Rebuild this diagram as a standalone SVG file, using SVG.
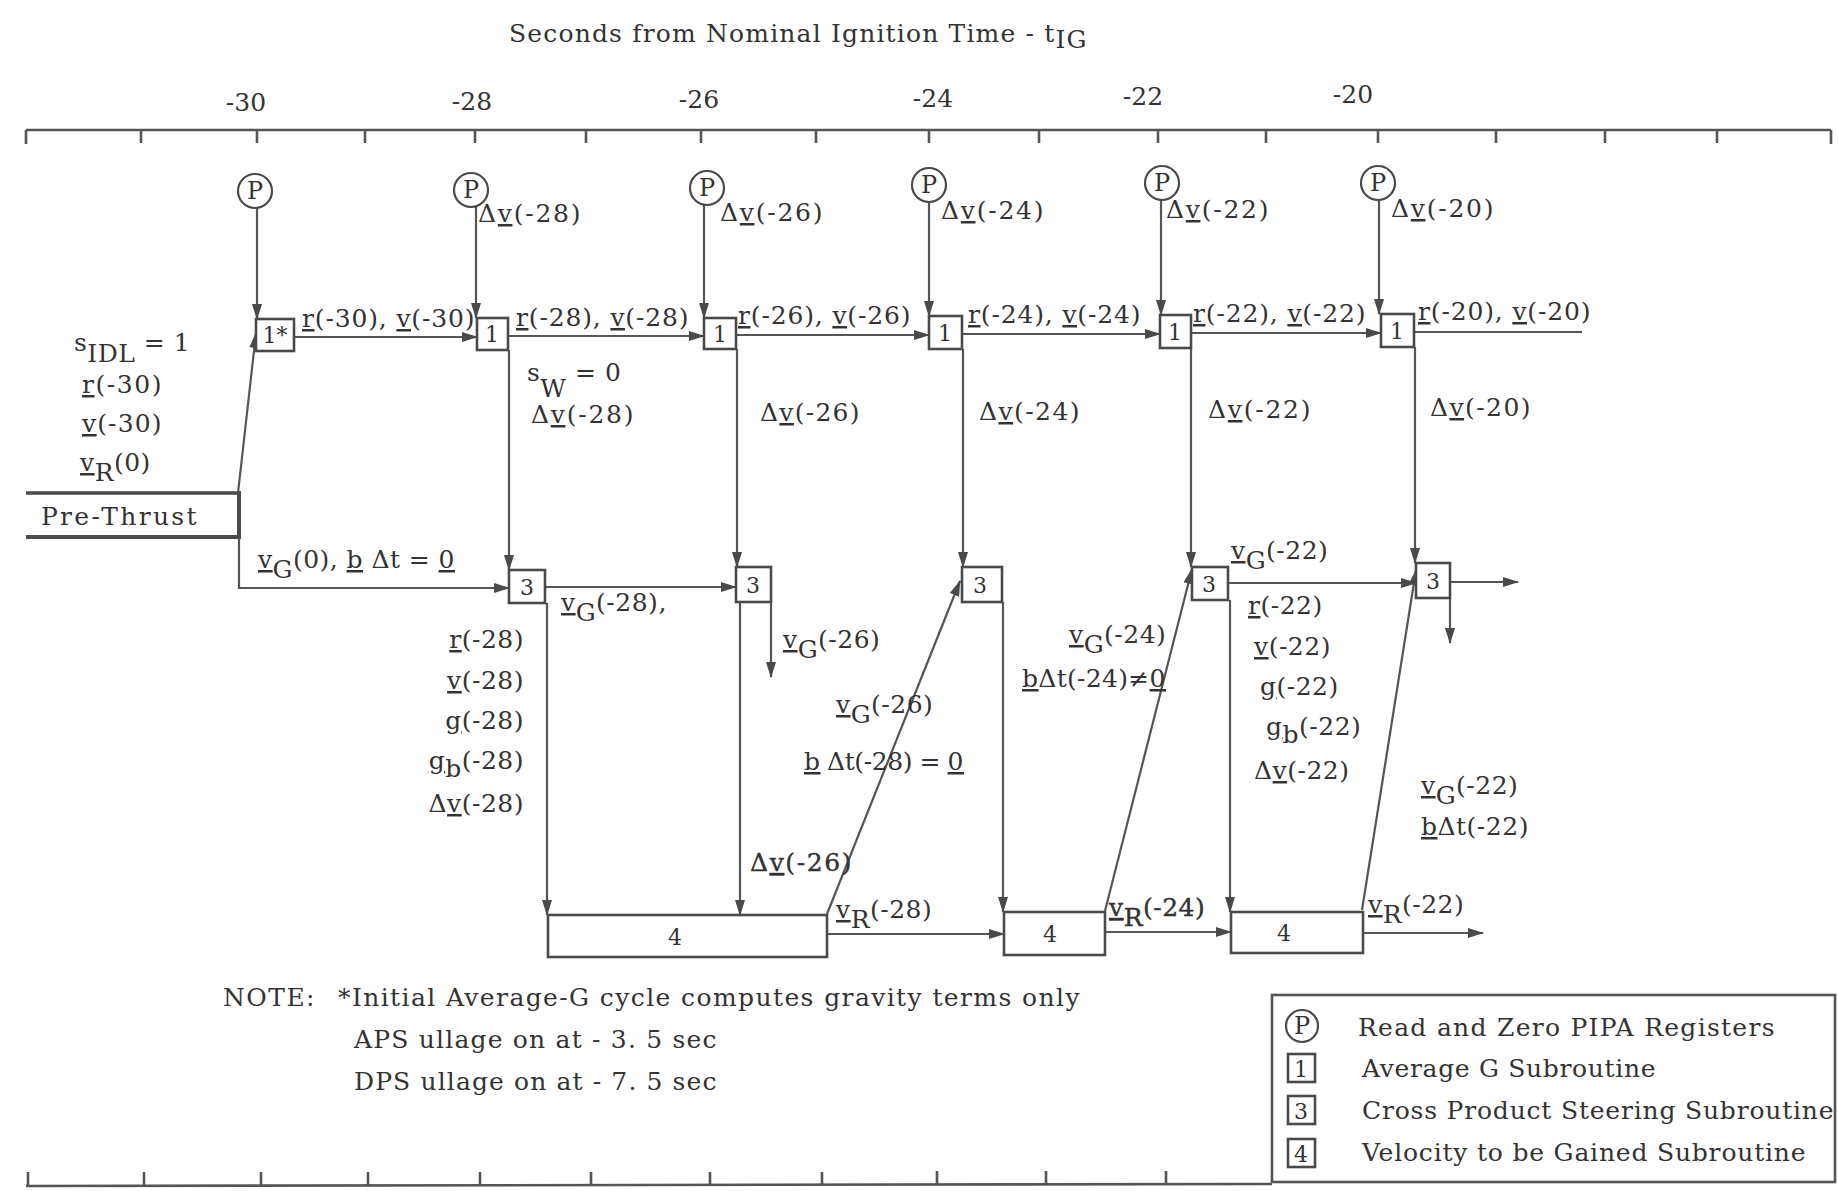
<svg xmlns="http://www.w3.org/2000/svg" width="1838" height="1191" viewBox="0 0 1838 1191">
<defs>
<style>
text{font-family:"DejaVu Serif","Liberation Serif",serif;font-size:25px;fill:#333;letter-spacing:0.5px}
.u{text-decoration:underline}
.ln{stroke:#555;stroke-width:2.2;fill:none}
.ar{stroke:#555;stroke-width:2.2;fill:none;marker-end:url(#ah)}
.bx{fill:#fff;stroke:#4a4a4a;stroke-width:2.6}
.ax{stroke:#555;stroke-width:2.6;fill:none}
.pc{fill:#fff;stroke:#4a4a4a;stroke-width:2.2}
.bl{font-size:22px;text-anchor:middle;letter-spacing:0}
.pl{font-size:24px;text-anchor:middle;letter-spacing:0}
.c{text-anchor:middle;letter-spacing:0}
.e{text-anchor:end}
.bd{stroke:#333;stroke-width:0.4}
</style>
<marker id="ah" markerWidth="16" markerHeight="12" refX="15" refY="6" orient="auto" markerUnits="userSpaceOnUse">
<path d="M0,1 L16,6 L0,11 Z" fill="#4a4a4a"/>
</marker>
</defs>
<rect width="1838" height="1191" fill="#fff"/>

<g id="title">
<text x="509" y="42" textLength="578" lengthAdjust="spacing">Seconds from Nominal Ignition Time - t<tspan dy="6">IG</tspan></text>
</g>

<g id="axis-top">
<path class="ax" d="M26,130 L1831,130 M26,130 V144 M141,130 V143 M257,130 V143 M365,130 V143 M475,130 V143 M586,130 V143 M701,130 V143 M816,130 V143 M929,130 V143 M1039,130 V143 M1158,130 V143 M1266,130 V143 M1378,130 V143 M1496,130 V143 M1605,130 V143 M1717,130 V143 M1831,130 V144"/>
<text class="c" x="246" y="111">-30</text>
<text class="c" x="472" y="110">-28</text>
<text class="c" x="699" y="108">-26</text>
<text class="c" x="933" y="107">-24</text>
<text class="c" x="1143" y="105">-22</text>
<text class="c" x="1353" y="103">-20</text>
</g>

<g id="axis-bottom">
<path class="ax" d="M26,1186 L1272,1184 M28,1186 V1172 M144,1186 V1172 M261,1186 V1172 M368,1186 V1172 M480,1186 V1172 M591,1186 V1172 M710,1186 V1172 M822,1186 V1172 M937,1185 V1171 M1046,1185 V1171 M1166,1185 V1171"/>
</g>

<g id="connectors">
<line class="ar" x1="257" y1="208" x2="257" y2="319"/>
<line class="ar" x1="476" y1="206" x2="476" y2="318"/>
<line class="ar" x1="704" y1="204" x2="704" y2="318"/>
<line class="ar" x1="929" y1="202" x2="929" y2="316"/>
<line class="ar" x1="1161" y1="200" x2="1161" y2="315"/>
<line class="ar" x1="1379" y1="200" x2="1379" y2="314"/>
<line class="ar" x1="294" y1="337" x2="477" y2="337"/>
<line class="ar" x1="508" y1="336" x2="704" y2="336"/>
<line class="ar" x1="736" y1="335" x2="929" y2="335"/>
<line class="ar" x1="962" y1="334" x2="1160" y2="334"/>
<line class="ar" x1="1191" y1="333" x2="1381" y2="333"/>
<line class="ln" x1="1414" y1="332" x2="1582" y2="332"/>
<line class="ar" x1="509" y1="350" x2="509" y2="570"/>
<line class="ar" x1="737" y1="349" x2="737" y2="567"/>
<line class="ar" x1="963" y1="349" x2="963" y2="567"/>
<line class="ar" x1="1191" y1="348" x2="1191" y2="567"/>
<line class="ar" x1="1415" y1="347" x2="1415" y2="563"/>
<line class="ar" x1="238" y1="493" x2="256" y2="333"/>
<polyline class="ar" points="239,537 239,588 509,588"/>
<line class="ar" x1="545" y1="587" x2="736" y2="587"/>
<line class="ar" x1="771" y1="602" x2="771" y2="677"/>
<line class="ar" x1="1228" y1="583" x2="1416" y2="583"/>
<line class="ar" x1="1450" y1="582" x2="1518" y2="582"/>
<line class="ar" x1="1450" y1="598" x2="1450" y2="643"/>
<line class="ar" x1="547" y1="603" x2="547" y2="915"/>
<line class="ar" x1="740" y1="602" x2="740" y2="915"/>
<line class="ar" x1="1003" y1="602" x2="1003" y2="912"/>
<line class="ar" x1="1230" y1="600" x2="1230" y2="912"/>
<line class="ar" x1="827" y1="914" x2="960" y2="581"/>
<line class="ar" x1="1105" y1="911" x2="1192" y2="569"/>
<line class="ar" x1="1362" y1="910" x2="1416" y2="570"/>
<line class="ar" x1="827" y1="934" x2="1004" y2="934"/>
<line class="ar" x1="1105" y1="932" x2="1231" y2="932"/>
<line class="ar" x1="1363" y1="933" x2="1483" y2="933"/>
</g>

<g id="pre-thrust">
<path d="M26,493 H239" stroke="#4a4a4a" stroke-width="3.5" fill="none"/>
<path d="M26,537 H239" stroke="#4a4a4a" stroke-width="4" fill="none"/>
<path d="M239,491 V539" stroke="#4a4a4a" stroke-width="4" fill="none"/>
<text x="41" y="525" textLength="156" lengthAdjust="spacing">Pre-Thrust</text>
</g>

<g id="p-30"><circle class="pc" cx="255" cy="191" r="17"/><text class="pl" x="255" y="199">P</text></g>
<g id="p-28"><circle class="pc" cx="471" cy="190" r="17"/><text class="pl" x="471" y="198">P</text></g>
<g id="p-26"><circle class="pc" cx="707" cy="188" r="17"/><text class="pl" x="707" y="196">P</text></g>
<g id="p-24"><circle class="pc" cx="929" cy="185" r="17"/><text class="pl" x="929" y="193">P</text></g>
<g id="p-22"><circle class="pc" cx="1162" cy="183" r="17"/><text class="pl" x="1162" y="191">P</text></g>
<g id="p-20"><circle class="pc" cx="1378" cy="183" r="17"/><text class="pl" x="1378" y="191">P</text></g>

<g id="avg-30"><rect class="bx" x="256" y="319" width="38" height="32"/><text class="bl" x="275" y="343">1*</text></g>
<g id="avg-28"><rect class="bx" x="477" y="318" width="31" height="32"/><text class="bl" x="492" y="342">1</text></g>
<g id="avg-26"><rect class="bx" x="704" y="318" width="32" height="31"/><text class="bl" x="720" y="342">1</text></g>
<g id="avg-24"><rect class="bx" x="929" y="316" width="33" height="33"/><text class="bl" x="945" y="341">1</text></g>
<g id="avg-22"><rect class="bx" x="1160" y="315" width="31" height="33"/><text class="bl" x="1175" y="340">1</text></g>
<g id="avg-20"><rect class="bx" x="1381" y="314" width="33" height="33"/><text class="bl" x="1397" y="339">1</text></g>

<g id="cps-28"><rect class="bx" x="509" y="570" width="36" height="33"/><text class="bl" x="527" y="595">3</text></g>
<g id="cps-26"><rect class="bx" x="736" y="567" width="35" height="35"/><text class="bl" x="753" y="593">3</text></g>
<g id="cps-24"><rect class="bx" x="962" y="567" width="40" height="35"/><text class="bl" x="980" y="593">3</text></g>
<g id="cps-22"><rect class="bx" x="1192" y="567" width="36" height="33"/><text class="bl" x="1209" y="592">3</text></g>
<g id="cps-20"><rect class="bx" x="1416" y="563" width="34" height="35"/><text class="bl" x="1433" y="589">3</text></g>

<g id="vtg-28"><rect class="bx" x="548" y="915" width="279" height="42"/><text class="bl" x="675" y="945">4</text></g>
<g id="vtg-24"><rect class="bx" x="1004" y="912" width="101" height="43"/><text class="bl" x="1050" y="942">4</text></g>
<g id="vtg-22"><rect class="bx" x="1231" y="912" width="132" height="41"/><text class="bl" x="1284" y="941">4</text></g>

<g id="labels">
<text x="478" y="222" textLength="103" lengthAdjust="spacing">Δ<tspan class="u">v</tspan>(-28)</text>
<text x="720" y="221" textLength="103" lengthAdjust="spacing">Δ<tspan class="u">v</tspan>(-26)</text>
<text x="941" y="219" textLength="103" lengthAdjust="spacing">Δ<tspan class="u">v</tspan>(-24)</text>
<text x="1166" y="218" textLength="103" lengthAdjust="spacing">Δ<tspan class="u">v</tspan>(-22)</text>
<text x="1391" y="217" textLength="103" lengthAdjust="spacing">Δ<tspan class="u">v</tspan>(-20)</text>
<text x="302" y="327" textLength="173" lengthAdjust="spacing"><tspan class="u">r</tspan>(-30), <tspan class="u">v</tspan>(-30)</text>
<text x="516" y="326" textLength="173" lengthAdjust="spacing"><tspan class="u">r</tspan>(-28), <tspan class="u">v</tspan>(-28)</text>
<text x="738" y="324" textLength="173" lengthAdjust="spacing"><tspan class="u">r</tspan>(-26), <tspan class="u">v</tspan>(-26)</text>
<text x="968" y="323" textLength="173" lengthAdjust="spacing"><tspan class="u">r</tspan>(-24), <tspan class="u">v</tspan>(-24)</text>
<text x="1193" y="322" textLength="173" lengthAdjust="spacing"><tspan class="u">r</tspan>(-22), <tspan class="u">v</tspan>(-22)</text>
<text x="1418" y="320" textLength="173" lengthAdjust="spacing"><tspan class="u">r</tspan>(-20), <tspan class="u">v</tspan>(-20)</text>
<text x="74" y="351">s<tspan dy="11">IDL</tspan><tspan dy="-11"> = 1</tspan></text>
<text x="82" y="393" textLength="80" lengthAdjust="spacing"><tspan class="u">r</tspan>(-30)</text>
<text x="82" y="432" textLength="80" lengthAdjust="spacing"><tspan class="u">v</tspan>(-30)</text>
<text x="80" y="471"><tspan class="u">v</tspan><tspan dy="10">R</tspan><tspan dy="-10">(0)</tspan></text>
<text x="258" y="568" textLength="197" lengthAdjust="spacing"><tspan class="u">v</tspan><tspan dy="10">G</tspan><tspan dy="-10">(0), </tspan><tspan class="u">b</tspan> Δt = <tspan class="u">0</tspan></text>
<text x="527" y="381">s<tspan dy="16">W</tspan><tspan dy="-16"> = 0</tspan></text>
<text x="531" y="423" textLength="103" lengthAdjust="spacing">Δ<tspan class="u">v</tspan>(-28)</text>
<text x="760" y="421" textLength="100" lengthAdjust="spacing">Δ<tspan class="u">v</tspan>(-26)</text>
<text x="979" y="420" textLength="101" lengthAdjust="spacing">Δ<tspan class="u">v</tspan>(-24)</text>
<text x="1208" y="418" textLength="103" lengthAdjust="spacing">Δ<tspan class="u">v</tspan>(-22)</text>
<text x="1430" y="416" textLength="101" lengthAdjust="spacing">Δ<tspan class="u">v</tspan>(-20)</text>
<text x="561" y="611"><tspan class="u">v</tspan><tspan dy="10">G</tspan><tspan dy="-10">(-28),</tspan></text>
<text class="e" x="524" y="648"><tspan class="u">r</tspan>(-28)</text>
<text class="e" x="524" y="689"><tspan class="u">v</tspan>(-28)</text>
<text class="e" x="524" y="729"><tspan class="u">g</tspan>(-28)</text>
<text class="e" x="524" y="769"><tspan class="u">g</tspan><tspan dy="8">b</tspan><tspan dy="-8">(-28)</tspan></text>
<text class="e" x="524" y="812">Δ<tspan class="u">v</tspan>(-28)</text>
<text x="783" y="648"><tspan class="u">v</tspan><tspan dy="10">G</tspan><tspan dy="-10">(-26)</tspan></text>
<text x="836" y="713"><tspan class="u">v</tspan><tspan dy="10">G</tspan><tspan dy="-10">(-26)</tspan></text>
<text x="804" y="770" textLength="160" lengthAdjust="spacing"><tspan class="u">b</tspan> Δt(-28) = <tspan class="u">0</tspan></text>
<text class="bd" x="750" y="871" textLength="102" lengthAdjust="spacing">Δ<tspan class="u">v</tspan>(-26)</text>
<text x="836" y="918"><tspan class="u">v</tspan><tspan dy="10">R</tspan><tspan dy="-10">(-28)</tspan></text>
<text x="1069" y="643"><tspan class="u">v</tspan><tspan dy="10">G</tspan><tspan dy="-10">(-24)</tspan></text>
<text x="1022" y="687" textLength="144" lengthAdjust="spacing"><tspan class="u">b</tspan>Δt(-24)≠<tspan class="u">0</tspan></text>
<text class="bd" x="1109" y="916"><tspan class="u">v</tspan><tspan dy="10">R</tspan><tspan dy="-10">(-24)</tspan></text>
<text x="1231" y="559"><tspan class="u">v</tspan><tspan dy="10">G</tspan><tspan dy="-10">(-22)</tspan></text>
<text x="1248" y="614"><tspan class="u">r</tspan>(-22)</text>
<text x="1254" y="655"><tspan class="u">v</tspan>(-22)</text>
<text x="1260" y="695"><tspan class="u">g</tspan>(-22)</text>
<text x="1266" y="735"><tspan class="u">g</tspan><tspan dy="8">b</tspan><tspan dy="-8">(-22)</tspan></text>
<text x="1254" y="779">Δ<tspan class="u">v</tspan>(-22)</text>
<text x="1368" y="913"><tspan class="u">v</tspan><tspan dy="10">R</tspan><tspan dy="-10">(-22)</tspan></text>
<text x="1421" y="794"><tspan class="u">v</tspan><tspan dy="10">G</tspan><tspan dy="-10">(-22)</tspan></text>
<text x="1421" y="835"><tspan class="u">b</tspan>Δt(-22)</text>
</g>

<g id="note">
<text x="223" y="1006" textLength="92" lengthAdjust="spacing">NOTE:</text>
<text x="338" y="1006" textLength="742" lengthAdjust="spacing">*Initial Average-G cycle computes gravity terms only</text>
<text x="354" y="1048" textLength="363" lengthAdjust="spacing">APS ullage on at - 3. 5 sec</text>
<text x="354" y="1090" textLength="363" lengthAdjust="spacing">DPS ullage on at - 7. 5 sec</text>
</g>

<g id="legend">
<rect x="1272" y="995" width="563" height="187" fill="none" stroke="#555" stroke-width="2.6"/>
<circle class="pc" cx="1302" cy="1026" r="16"/><text class="pl" x="1302" y="1034">P</text>
<rect class="bx" x="1288" y="1054" width="27" height="28" stroke-width="2.2"/><text class="bl" x="1301" y="1077">1</text>
<rect class="bx" x="1288" y="1096" width="27" height="28" stroke-width="2.2"/><text class="bl" x="1301" y="1119">3</text>
<rect class="bx" x="1288" y="1139" width="27" height="28" stroke-width="2.2"/><text class="bl" x="1301" y="1162">4</text>
<text x="1358" y="1036" font-size="26" textLength="417" lengthAdjust="spacing">Read and Zero PIPA Registers</text>
<text x="1362" y="1077" font-size="26" textLength="294" lengthAdjust="spacing">Average G Subroutine</text>
<text x="1362" y="1119" font-size="26" textLength="472" lengthAdjust="spacing">Cross Product Steering Subroutine</text>
<text x="1362" y="1161" font-size="26" textLength="444" lengthAdjust="spacing">Velocity to be Gained Subroutine</text>
</g>
</svg>
